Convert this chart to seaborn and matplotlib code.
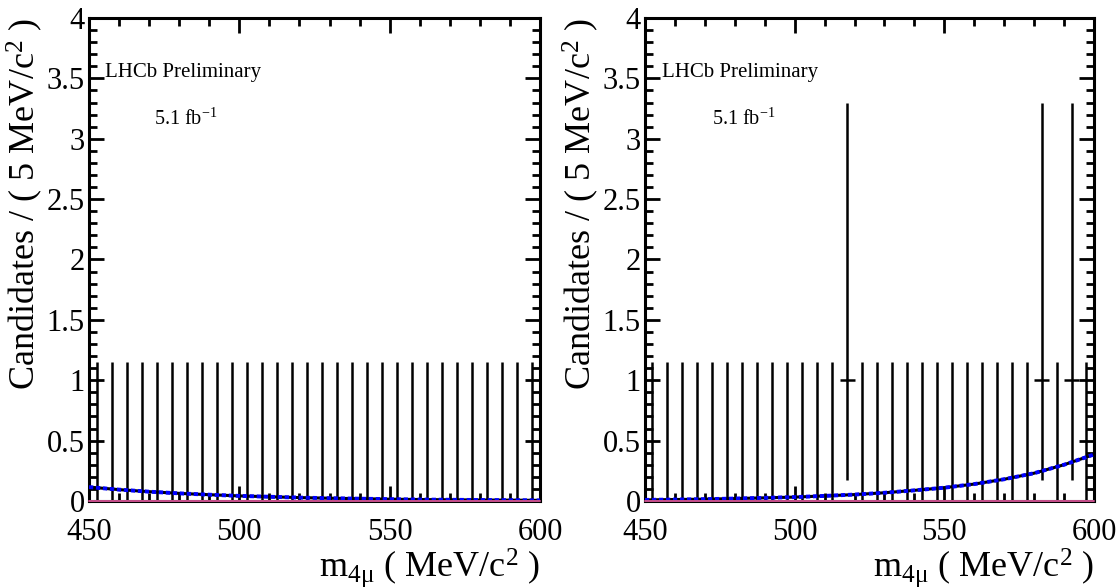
import numpy as np
import pandas as pd
import matplotlib
matplotlib.use("Agg")
import matplotlib.pyplot as plt
import seaborn as sns
from matplotlib.ticker import MultipleLocator, FormatStrFormatter

# ---------------- data ----------------
bin_centers = [452.5, 457.5, 462.5, 467.5, 472.5, 477.5, 482.5, 487.5, 492.5, 497.5,
               502.5, 507.5, 512.5, 517.5, 522.5, 527.5, 532.5, 537.5, 542.5, 547.5,
               552.5, 557.5, 562.5, 567.5, 572.5, 577.5, 582.5, 587.5, 592.5, 597.5]
counts_left = [0, 0, 0, 0, 0, 0, 0, 0, 0, 0,
               0, 0, 0, 0, 0, 0, 0, 0, 0, 0,
               0, 0, 0, 0, 0, 0, 0, 0, 0, 0]
counts_right = [0, 0, 0, 0, 0, 0, 0, 0, 0, 0,
                0, 0, 0, 1, 0, 0, 0, 0, 0, 0,
                0, 0, 0, 0, 0, 0, 1, 0, 1, 0]
# Poisson (ROOT-style) asymmetric errors for a given count
poisson_err_low = {0: 0.0, 1: 0.827}
poisson_err_high = {0: 1.148, 1: 2.300}

curve_x = [450, 460, 470, 480, 490, 500, 510, 520, 530, 540, 550, 560, 570, 580, 590, 600]
fit_left = [0.115, 0.094, 0.077, 0.063, 0.052, 0.042, 0.035, 0.028, 0.023, 0.019,
            0.015, 0.012, 0.010, 0.008, 0.007, 0.005]
fit_right = [0.009, 0.012, 0.015, 0.020, 0.026, 0.032, 0.042, 0.053, 0.068, 0.088,
             0.110, 0.140, 0.180, 0.230, 0.300, 0.385]
bkg_left = [0.0] * len(curve_x)
bkg_right = [0.0] * len(curve_x)

bin_width = 5.0
xlim = (450, 600)
ylim = (0, 4)
ylabel = "Candidates / ( 5 MeV/c$^{2}$ )"
xlabel = "m$_{\\mathrm{4μ}}$ ( MeV/c$^{2}$ )"
text_lhcb = "LHCb Preliminary"
text_lumi = "5.1 fb$^{-1}$"

# ---------------- style ----------------
sns.set_theme(style="ticks")
plt.rcParams["font.family"] = ["Liberation Serif", "DejaVu Serif"]
plt.rcParams["mathtext.fontset"] = "custom"
plt.rcParams["mathtext.rm"] = "Liberation Serif"
plt.rcParams["mathtext.it"] = "Liberation Serif:italic"
plt.rcParams["mathtext.bf"] = "Liberation Serif:bold"

fig = plt.figure(figsize=(11.18, 5.88), dpi=100)
ax_l = fig.add_axes([0.0796, 0.148, 0.4034, 0.8214])
ax_r = fig.add_axes([0.5769, 0.148, 0.4016, 0.8214])

panels = [(ax_l, counts_left, fit_left, bkg_left, 0.035, 0.144),
          (ax_r, counts_right, fit_right, bkg_right, 0.038, 0.149)]

for ax, counts, fit, bkg, tx1, tx2 in panels:
    df = pd.DataFrame({"x": bin_centers, "n": counts})
    lo = [poisson_err_low[c] for c in counts]
    hi = [poisson_err_high[c] for c in counts]
    ax.errorbar(df["x"], df["n"], yerr=[lo, hi], xerr=bin_width / 2,
                fmt="none", ecolor="black", elinewidth=1.8, capsize=0, zorder=4)

    cdf = pd.DataFrame({"x": curve_x, "fit": fit, "bkg": bkg})
    sns.lineplot(data=cdf, x="x", y="bkg", ax=ax, color="#c8508c", lw=1.4,
                 zorder=6, clip_on=False)
    sns.lineplot(data=cdf, x="x", y="fit", ax=ax, color="black", lw=2.2, zorder=5)
    sns.lineplot(data=cdf, x="x", y="fit", ax=ax, color="#0000ff", lw=2.8,
                 linestyle=(0, (1.1, 0.7)), zorder=5.5)

    ax.set_xlim(*xlim)
    ax.set_ylim(*ylim)
    ax.xaxis.set_major_locator(MultipleLocator(50))
    ax.xaxis.set_minor_locator(MultipleLocator(10))
    ax.yaxis.set_major_locator(MultipleLocator(0.5))
    ax.yaxis.set_minor_locator(MultipleLocator(0.1))
    ax.yaxis.set_major_formatter(FormatStrFormatter("%g"))
    ax.tick_params(which="both", direction="in", top=True, right=True,
                   width=2.0, color="black", labelsize=22, labelcolor="black")
    ax.tick_params(which="major", length=10.8)
    ax.tick_params(which="minor", length=5.5)
    ax.tick_params(axis="x", which="major", pad=12)
    ax.tick_params(axis="y", which="major", pad=3)
    for sp in ax.spines.values():
        sp.set_linewidth(2.2)
        sp.set_color("black")
        sp.set_visible(True)

    ax.set_ylabel(ylabel, fontsize=26, loc="top", color="black")
    ax.yaxis.set_label_coords(-0.097, 1.0)
    ax.set_xlabel(xlabel, fontsize=26, loc="right", color="black")
    ax.xaxis.set_label_coords(1.0, -0.094)

    ax.text(tx1, 0.888, text_lhcb, transform=ax.transAxes, fontsize=15,
            va="center", ha="left", color="black")
    ax.text(tx2, 0.79, text_lumi, transform=ax.transAxes, fontsize=14.5,
            va="center", ha="left", color="black")

fig.savefig("out.png", dpi=100, facecolor="white")
